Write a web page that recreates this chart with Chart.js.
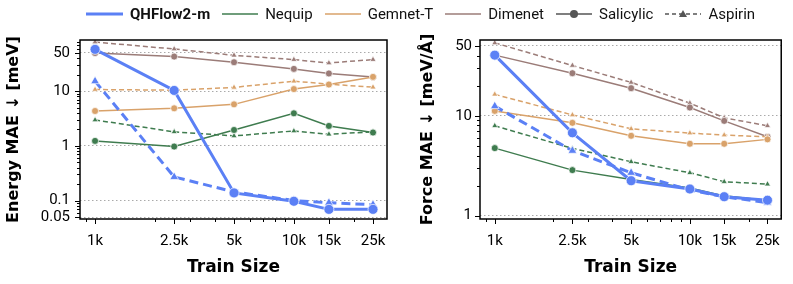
<!DOCTYPE html>
<html>
<head>
<meta charset="utf-8">
<script src="https://cdn.jsdelivr.net/npm/chart.js@4"></script>
<style>
  body { margin: 0; background: #fff; font-family: Roboto, sans-serif; }
  #wrap { position: relative; width: 793px; height: 284px; overflow: hidden; }
  #left { position: absolute; left: 0; top: 0; }
  #right { position: absolute; left: 400px; top: 0; }
  #legend { position: absolute; left: 86px; top: 5px; display: flex; align-items: center; font-size: 15px; color: #111; white-space: nowrap; }
  #legend .item { display: flex; align-items: center; margin-right: 12px; }
  #legend svg { margin-right: 7px; }
  #legend b { font-weight: 700; }
</style>
</head>
<body>
<div id="wrap">
  <canvas id="left" width="400" height="284"></canvas>
  <canvas id="right" width="393" height="284"></canvas>
  <div id="legend">
    <div class="item"><svg width="37" height="12"><line x1="0" y1="6" x2="37" y2="6" stroke="#5b80f5" stroke-width="3"/></svg><b>QHFlow2-m</b></div>
    <div class="item"><svg width="36" height="12"><line x1="0" y1="6" x2="36" y2="6" stroke="#3f7c4f" stroke-width="1.5"/></svg>Nequip</div>
    <div class="item"><svg width="36" height="12"><line x1="0" y1="6" x2="36" y2="6" stroke="#d9a26a" stroke-width="1.5"/></svg>Gemnet-T</div>
    <div class="item"><svg width="36" height="12"><line x1="0" y1="6" x2="36" y2="6" stroke="#9b7c78" stroke-width="1.5"/></svg>Dimenet</div>
    <div class="item"><svg width="36" height="12"><line x1="0" y1="6" x2="36" y2="6" stroke="#555" stroke-width="1.5"/><circle cx="18" cy="6" r="4" fill="#555"/></svg>Salicylic</div>
    <div class="item"><svg width="36" height="12"><line x1="0" y1="6" x2="36" y2="6" stroke="#555" stroke-width="1.5" stroke-dasharray="4,3"/><polygon points="18,2 22,9 14,9" fill="#555"/></svg>Aspirin</div>
  </div>
</div>
<script>
// train sizes (x) and their tick labels
const trainSizes = [1000, 2500, 5000, 10000, 15000, 25000];
const sizeLabels = ['1k', '2.5k', '5k', '10k', '15k', '25k'];

// Energy MAE [meV]
const qhEnergySal = [58, 10.3, 0.138, 0.097, 0.069, 0.069];
const qhEnergyAsp = [15.2, 0.27, 0.144, 0.1, 0.091, 0.084];
const nequipEnergySal = [1.23, 0.97, 1.95, 3.93, 2.31, 1.75];
const nequipEnergyAsp = [2.97, 1.80, 1.52, 1.87, 1.63, 1.80];
const gemnetEnergySal = [4.33, 4.85, 5.73, 10.9, 13.2, 18.2];
const gemnetEnergyAsp = [10.7, 10.4, 11.7, 15.2, 13.4, 11.8];
const dimenetEnergySal = [49.7, 42.8, 33.7, 25.5, 21.0, 18.2];
const dimenetEnergyAsp = [78.8, 58.9, 45.1, 37.7, 32.7, 37.7];

// Force MAE [meV/Å]
const qhForceSal = [40.5, 6.76, 2.24, 1.85, 1.55, 1.43];
const qhForceAsp = [12.5, 4.47, 2.69, 1.81, 1.55, 1.35];
const nequipForceSal = [4.75, 2.86, 2.31, 1.9, 1.58, 1.42];
const nequipForceAsp = [7.94, 4.72, 3.47, 2.69, 2.19, 2.07];
const gemnetForceSal = [11.2, 8.51, 6.31, 5.25, 5.25, 5.81];
const gemnetForceAsp = [16.4, 10.2, 7.41, 6.71, 6.41, 6.17];
const dimenetForceSal = [40.5, 26.7, 18.9, 12.1, 8.9, 6.17];
const dimenetForceAsp = [53.7, 31.9, 21.6, 13.4, 9.55, 7.94];

// labelled y ticks
const energyTicks = [0.05, 0.1, 1, 10, 50];
const forceTicks = [1, 10, 50];

const BLUE = '#5b80f5', GREEN = '#3f7c4f', ORANGE = '#d9a26a', BROWN = '#9b7c78';

function pts(arr) {
  return arr.map((v, i) => ({x: trainSizes[i], y: v}));
}

function ds(arr, color, dashed, big) {
  return {
    data: pts(arr),
    borderColor: color,
    backgroundColor: color,
    borderWidth: big ? 3 : 1.5,
    borderDash: dashed ? (big ? [9, 5] : [5, 3]) : [],
    pointStyle: dashed ? 'triangle' : 'circle',
    pointRadius: big ? 5 : 3.5,
    pointBackgroundColor: color,
    pointBorderColor: '#fff',
    pointBorderWidth: 0.7,
    tension: 0
  };
}

// minor positions for log axis tick marks
function logPositions(min, max) {
  let out = [];
  for (let e = Math.floor(Math.log10(min)); e <= Math.ceil(Math.log10(max)); e++) {
    for (let m = 1; m < 10; m++) {
      let v = m * Math.pow(10, e);
      if (v >= min && v <= max) out.push(v);
    }
  }
  return out;
}

const frameTicks = {
  id: 'frameTicks',
  afterDraw(chart) {
    const ctx = chart.ctx, a = chart.chartArea;
    const xs = chart.scales.x, ys = chart.scales.y;
    const labelled = chart.options.scales.y.labelled;
    ctx.save();
    ctx.strokeStyle = '#000';
    ctx.lineWidth = 1;
    logPositions(ys.min, ys.max).forEach(v => {
      const y = Math.round(ys.getPixelForValue(v)) + 0.5;
      const len = labelled.some(t => Math.abs(t - v) < t * 1e-6) ? 5 : 3;
      ctx.beginPath(); ctx.moveTo(a.left, y); ctx.lineTo(a.left - len, y); ctx.stroke();
    });
    logPositions(xs.min, xs.max).concat(trainSizes).forEach(v => {
      const x = Math.round(xs.getPixelForValue(v)) + 0.5;
      const len = trainSizes.includes(v) ? 5 : 3;
      ctx.beginPath(); ctx.moveTo(x, a.bottom); ctx.lineTo(x, a.bottom + len); ctx.stroke();
    });
    ctx.lineWidth = 1.5;
    ctx.strokeRect(a.left, a.top, a.right - a.left, a.bottom - a.top);
    ctx.restore();
  }
};

function makeChart(id, sets, yMin, yMax, yTicks, yTitle, padRight, titlePad, tickPad) {
  return new Chart(document.getElementById(id), {
    type: 'line',
    data: {datasets: sets},
    options: {
      responsive: false,
      animation: false,
      devicePixelRatio: 1,
      layout: {padding: {top: 40, right: padRight, left: 0, bottom: 0}},
      plugins: {legend: {display: false}, tooltip: {enabled: false}},
      scales: {
        x: {
          type: 'logarithmic',
          min: 840,
          max: 29400,
          afterBuildTicks: s => { s.ticks = trainSizes.map(v => ({value: v})); },
          afterFit: s => { s.height = 65; },
          ticks: {
            autoSkip: false, maxRotation: 0, padding: 13, color: '#000',
            font: {family: 'Roboto', size: 15},
            callback: v => sizeLabels[trainSizes.indexOf(v)]
          },
          grid: {display: false, drawTicks: false},
          border: {display: false},
          title: {display: true, text: 'Train Size', color: '#000',
            font: {family: 'DejaVu Sans', size: 17, weight: 'bold'}, padding: {top: 0, bottom: 6}}
        },
        y: {
          type: 'logarithmic',
          min: yMin,
          max: yMax,
          labelled: yTicks,
          afterBuildTicks: s => { s.ticks = yTicks.map(v => ({value: v})); },
          afterFit: s => { s.width = 80; },
          ticks: {
            autoSkip: false, padding: tickPad, color: '#000',
            font: {family: 'Roboto', size: 15},
            callback: v => String(v)
          },
          grid: {drawTicks: false, color: '#aaa', lineWidth: 1},
          border: {display: false, dash: [1.5, 2.5]},
          title: {display: true, text: yTitle, color: '#000',
            font: {family: 'DejaVu Sans', size: 16, weight: 'bold'}, padding: {top: titlePad, bottom: 0}}
        }
      }
    },
    plugins: [frameTicks]
  });
}

makeChart('left', [
  ds(qhEnergySal, BLUE, false, true),
  ds(qhEnergyAsp, BLUE, true, true),
  ds(nequipEnergySal, GREEN, false),
  ds(nequipEnergyAsp, GREEN, true),
  ds(gemnetEnergySal, ORANGE, false),
  ds(gemnetEnergyAsp, ORANGE, true),
  ds(dimenetEnergySal, BROWN, false),
  ds(dimenetEnergyAsp, BROWN, true)
], 0.046, 86, energyTicks, 'Energy MAE \u2193 [meV]', 13, 4, 10);

makeChart('right', [
  ds(qhForceSal, BLUE, false, true),
  ds(qhForceAsp, BLUE, true, true),
  ds(nequipForceSal, GREEN, false),
  ds(nequipForceAsp, GREEN, true),
  ds(gemnetForceSal, ORANGE, false),
  ds(gemnetForceAsp, ORANGE, true),
  ds(dimenetForceSal, BROWN, false),
  ds(dimenetForceAsp, BROWN, true)
], 0.927, 57.4, forceTicks, 'Force MAE \u2193 [meV/\u00c5]', 6, 18, 8);
</script>
</body>
</html>
